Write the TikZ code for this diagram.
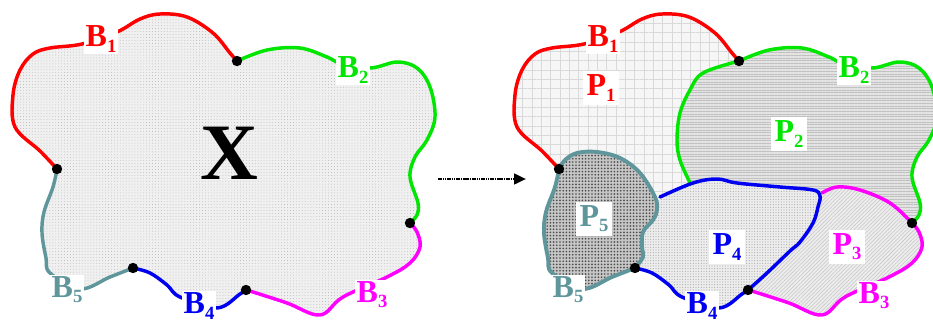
\documentclass[tikz,border=0pt]{standalone}
\usepackage{fontspec}
\setmainfont{Liberation Serif}
\usetikzlibrary{arrows.meta,patterns.meta}
\definecolor{BRed}{HTML}{FF0000}
\definecolor{BGreen}{HTML}{00E600}
\definecolor{BMag}{HTML}{FF00FF}
\definecolor{BBlue}{HTML}{0000F0}
\definecolor{BTeal}{RGB}{95,150,155}

% label with a lowered index
\newcommand{\blab}[2]{#1{\fontsize{14}{14}\selectfont\raisebox{-0.6ex}{#2}}}

% outer boundary pieces, in pixels of the left shape
\def\BOne{-- plot[smooth,tension=.6] coordinates {(J15) (40,151) (15,127) (13,95) (20,70) (33,54) (50,48) (82,44) (117,32) (140,19) (160,14) (187,17) (213,33) (230,53) (J12)}}
\def\BTwo{-- plot[smooth,tension=.6] coordinates {(J12) (267,50) (300,48) (327,57) (340,63) (370,68) (397,62) (417,68) (430,87) (435,117) (427,140) (415,157) (410,177) (418,203) (417,215) (J23)}}
\def\BThree{-- plot[smooth,tension=.6] coordinates {(J23) (417,232) (420,247) (410,263) (387,277) (343,297) (320,315) (287,303) (253,292) (J34)}}
\def\BFour{-- plot[smooth,tension=.6] coordinates {(J34) (240,294) (217,308) (180,297) (167,285) (150,273) (J45)}}
\def\BFive{-- plot[smooth,tension=.6] coordinates {(J45) (110,277) (80,289) (50,273) (46,258) (42,233) (44,212) (53,187) (J15)}}

\begin{document}
\begin{tikzpicture}[x=0.75pt, y=-0.75pt,
    bline/.style={line width=2.6pt, line join=round, line cap=round},
    jdot/.style={fill=black},
    labB/.style={fill=white, inner sep=1.5pt, font=\fontsize{24}{24}\selectfont\bfseries},
    labP/.style={fill=white, inner sep=3pt, font=\fontsize{24}{24}\selectfont\bfseries},
    regL/.style={fill=gray!12, postaction={pattern={Dots[distance=2.2pt,radius=.35pt]}, pattern color=gray!55}},
    regP1/.style={fill=gray!7, postaction={pattern={Hatch[distance=7pt,line width=.4pt]}, pattern color=gray!30}},
    regP2/.style={fill=gray!22, postaction={pattern={Lines[angle=0,distance=2pt,line width=.6pt]}, pattern color=gray!50}},
    regP3/.style={fill=gray!14, postaction={pattern={Lines[angle=45,distance=2pt,line width=.4pt]}, pattern color=gray!45}},
    regP4/.style={fill=gray!14, postaction={pattern={Dots[distance=2pt,radius=.45pt]}, pattern color=gray!60}},
    regP5/.style={fill=gray!45, postaction={pattern={Dots[distance=2.4pt,radius=.7pt]}, pattern color=black!70}},
    flow/.style={line width=1.9pt, dash pattern=on 1.2pt off .5pt, -{Triangle[length=9pt,width=8pt]}}]

    \useasboundingbox (0,0) rectangle (933,322);

    % the whole set X
    \begin{scope}[name prefix=L-]
        \coordinate (J15) at (57,169);
        \coordinate (J12) at (237,61);
        \coordinate (J23) at (410,223);
        \coordinate (J34) at (246,290);
        \coordinate (J45) at (133,268);

        \path[regL] (J15) \BOne \BTwo \BThree \BFour \BFive -- cycle;

        \draw[bline, BRed] (J15) \BOne;
        \draw[bline, BGreen] (J12) \BTwo;
        \draw[bline, BMag] (J23) \BThree;
        \draw[bline, BBlue] (J34) \BFour;
        \draw[bline, BTeal] (J45) \BFive;

        \foreach \j in {J15,J12,J23,J34,J45} {
            \fill[jdot] (\j) circle (3.9pt);
        }

        \node[labB, text=BRed] (b1) at (101,39) {\blab{B}{1}};
        \node[labB, text=BGreen] (b2) at (353,70) {\blab{B}{2}};
        \node[labB, text=BMag] (b3) at (372,295) {\blab{B}{3}};
        \node[labB, text=BBlue] (b4) at (199,306) {\blab{B}{4}};
        \node[labB, text=BTeal] (b5) at (67,290) {\blab{B}{5}};

        \node[font=\fontsize{60}{60}\selectfont\bfseries] (X) at (229,153) {X};
    \end{scope}

    % arrow
    \coordinate (arrS) at (438,179);
    \coordinate (arrE) at (526,179);
    \draw[flow] (arrS) -- (arrE);

    % the partition P1..P5
    \begin{scope}[shift={(502,0)}, name prefix=R-]
        \coordinate (J15) at (57,169);
        \coordinate (J12) at (237,61);
        \coordinate (J23) at (410,223);
        \coordinate (J34) at (246,290);
        \coordinate (J45) at (133,268);

        % P1
        \path[regP1] (J15) \BOne \BTwo \BThree \BFour \BFive -- cycle;
        \draw[bline, BRed] (J15) \BOne;

        % P2
        \path[regP2] (J12) \BTwo -- (388,210) -- (340,200) -- (318,200) -- (250,195) -- (200,198)
            -- plot[smooth,tension=.6] coordinates {(192,192) (188,183) (178,160) (175,140) (178,113) (188,90) (201,73) (J12)} -- cycle;
        \draw[bline, BGreen] (J12) \BTwo;
        \draw[bline, BGreen] (J12) -- plot[smooth,tension=.6] coordinates {(J12) (201,73) (188,90) (178,113) (175,140) (178,160) (188,183) (192,192)};

        % P3
        \path[regP3] (320,193) -- plot[smooth,tension=.6] coordinates {(320,193) (335,187) (358,190) (388,203) (J23)} \BThree
            -- plot[smooth,tension=.6] coordinates {(J34) (265,273) (288,252) (298,242) (311,223) (316,207) (320,193)} -- cycle;
        \draw[bline, BMag] (320,193) -- plot[smooth,tension=.6] coordinates {(320,193) (335,187) (358,190) (388,203) (J23)} \BThree;

        % P4
        \path[regP4] (J45) -- plot[smooth,tension=.6] coordinates {(J45) (141,257) (140,247) (141,232) (151,220) (155,210) (158,197)}
            -- plot[smooth,tension=.6] coordinates {(158,197) (191,183) (215,179) (235,183) (278,187) (311,190) (318,196) (316,207) (311,223) (298,242) (288,251) (265,273) (J34)} \BFour -- cycle;
        \draw[bline, BBlue] (158,197) -- plot[smooth,tension=.6] coordinates {(158,197) (191,183) (215,179) (235,183) (278,187) (311,190) (318,196) (316,207) (311,223) (298,242) (288,251) (265,273) (J34)} \BFour;

        % P5
        \path[regP5] (J15) -- plot[smooth,tension=.6] coordinates {(J15) (63,160) (75,153) (95,152) (118,158) (138,173) (153,197) (155,210) (151,220) (141,232) (140,247) (141,257) (J45)} \BFive -- cycle;
        \draw[bline, BTeal, line width=2.9pt] (J15) -- plot[smooth,tension=.6] coordinates {(J15) (63,160) (75,153) (95,152) (118,158) (138,173) (153,197) (155,210) (151,220) (141,232) (140,247) (141,257) (J45)} \BFive -- cycle;

        \foreach \j in {J15,J12,J23,J34,J45} {
            \fill[jdot] (\j) circle (3.9pt);
        }

        \node[labB, text=BRed] (b1) at (101,39) {\blab{B}{1}};
        \node[labB, text=BGreen] (b2) at (352,70) {\blab{B}{2}};
        \node[labB, text=BMag] (b3) at (372,296) {\blab{B}{3}};
        \node[labB, text=BBlue] (b4) at (200,306) {\blab{B}{4}};
        \node[labB, text=BTeal] (b5) at (66,290) {\blab{B}{5}};

        \node[labP, text=BRed] (p1) at (99,88) {\blab{P}{1}};
        \node[labP, text=BGreen] (p2) at (287,134) {\blab{P}{2}};
        \node[labP, text=BMag] (p3) at (345,247) {\blab{P}{3}};
        \node[labP, text=BBlue] (p4) at (225,247) {\blab{P}{4}};
        \node[labP, text=BTeal] (p5) at (92,219) {\blab{P}{5}};
    \end{scope}

\end{tikzpicture}
\end{document}
